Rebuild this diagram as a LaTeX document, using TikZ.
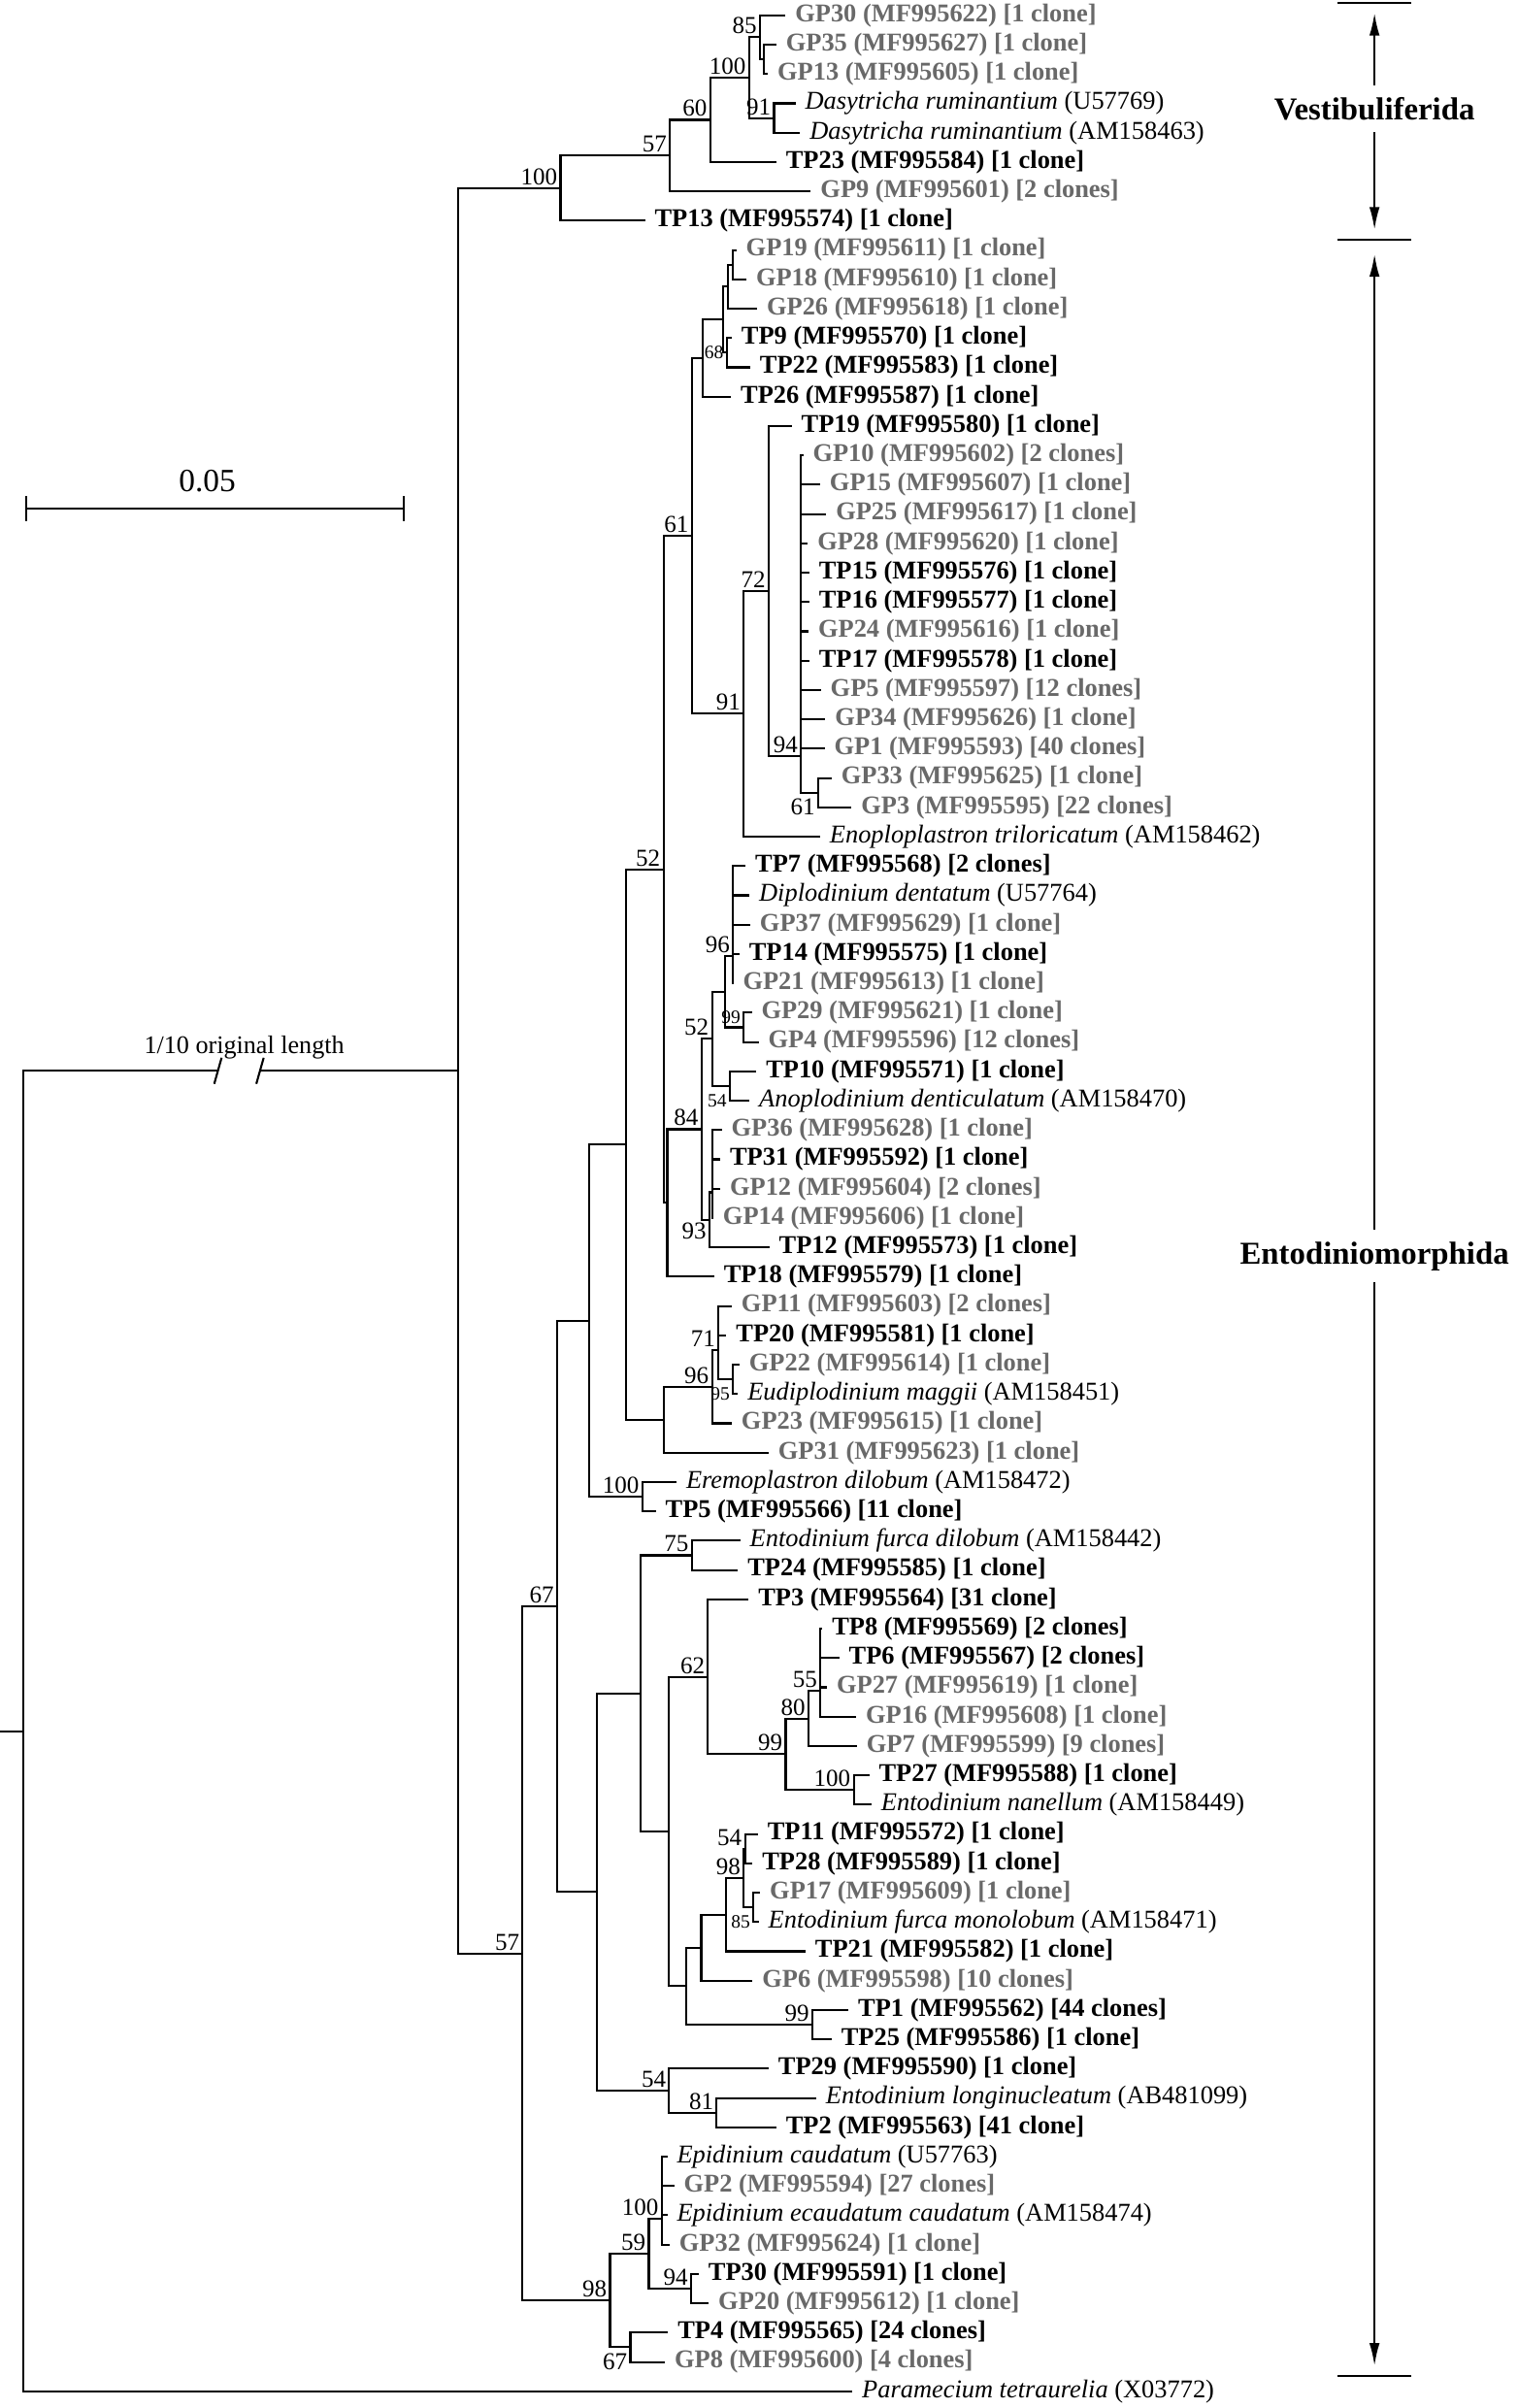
\documentclass[tikz,border=0pt]{standalone}
\usepackage{fontspec}
\setmainfont{Liberation Serif}
\usetikzlibrary{arrows.meta}

\definecolor{gpgray}{RGB}{105,105,105}

\tikzset{
    brline/.style={line width=0.75pt},
    leaf/.style={anchor=west,inner xsep=3.4pt,inner ysep=0.5pt,
        font=\fontsize{9.5}{11}\selectfont},
    tp/.style={leaf,font=\fontsize{9.5}{11}\selectfont\bfseries},
    gp/.style={leaf,text=gpgray,font=\fontsize{9.5}{11}\selectfont\bfseries},
    boot/.style={anchor=south east,inner sep=1pt,font=\fontsize{9}{10}\selectfont},
    bootsmall/.style={boot,font=\fontsize{7}{8}\selectfont},
    clade/.style={font=\fontsize{11.8}{14}\selectfont\bfseries,inner xsep=0pt,inner ysep=4.2pt},
    bracket/.style={line width=0.75pt,-{Latex[length=8.4pt,width=3.8pt]}},
}

\begin{document}
\begin{tikzpicture}[x=0.02cm,y=-0.02cm]
    \useasboundingbox (0,0) rectangle (988,1568);

    % sequences
    \node[gp] (GP30) at (511.5,10.0) {GP30 (MF995622) [1 clone]};
    \node[gp] (GP35) at (505.5,29.1) {GP35 (MF995627) [1 clone]};
    \node[gp] (GP13) at (500,48.2) {GP13 (MF995605) [1 clone]};
    \node[leaf] (Dasy1) at (518,67.3) {\textit{Dasytricha ruminantium} (U57769)};
    \node[leaf] (Dasy2) at (521,86.4) {\textit{Dasytricha ruminantium} (AM158463)};
    \node[tp] (TP23) at (505.5,105.5) {TP23 (MF995584) [1 clone]};
    \node[gp] (GP9) at (528,124.6) {GP9 (MF995601) [2 clones]};
    \node[tp] (TP13) at (420,143.7) {TP13 (MF995574) [1 clone]};
    \node[gp] (GP19) at (479.5,162.8) {GP19 (MF995611) [1 clone]};
    \node[gp] (GP18) at (486,181.9) {GP18 (MF995610) [1 clone]};
    \node[gp] (GP26) at (493,201.0) {GP26 (MF995618) [1 clone]};
    \node[tp] (TP9) at (476.5,220.1) {TP9 (MF995570) [1 clone]};
    \node[tp] (TP22) at (488.5,239.2) {TP22 (MF995583) [1 clone]};
    \node[tp] (TP26) at (476,258.3) {TP26 (MF995587) [1 clone]};
    \node[tp] (TP19) at (515.5,277.4) {TP19 (MF995580) [1 clone]};
    \node[gp] (GP10) at (523,296.5) {GP10 (MF995602) [2 clones]};
    \node[gp] (GP15) at (534,315.6) {GP15 (MF995607) [1 clone]};
    \node[gp] (GP25) at (538,334.7) {GP25 (MF995617) [1 clone]};
    \node[gp] (GP28) at (526,353.8) {GP28 (MF995620) [1 clone]};
    \node[tp] (TP15) at (527,372.9) {TP15 (MF995576) [1 clone]};
    \node[tp] (TP16) at (527,392.0) {TP16 (MF995577) [1 clone]};
    \node[gp] (GP24) at (526.5,411.1) {GP24 (MF995616) [1 clone]};
    \node[tp] (TP17) at (527,430.2) {TP17 (MF995578) [1 clone]};
    \node[gp] (GP5) at (534.5,449.3) {GP5 (MF995597) [12 clones]};
    \node[gp] (GP34) at (537.5,468.4) {GP34 (MF995626) [1 clone]};
    \node[gp] (GP1) at (537,487.5) {GP1 (MF995593) [40 clones]};
    \node[gp] (GP33) at (541.5,506.6) {GP33 (MF995625) [1 clone]};
    \node[gp] (GP3) at (554.5,525.7) {GP3 (MF995595) [22 clones]};
    \node[leaf] (Enopl) at (534,544.8) {\textit{Enoploplastron triloricatum} (AM158462)};
    \node[tp] (TP7) at (485.5,563.9) {TP7 (MF995568) [2 clones]};
    \node[leaf] (Diplo) at (488,583.0) {\textit{Diplodinium dentatum} (U57764)};
    \node[gp] (GP37) at (488.5,602.1) {GP37 (MF995629) [1 clone]};
    \node[tp] (TP14) at (481.5,621.2) {TP14 (MF995575) [1 clone]};
    \node[gp] (GP21) at (477.5,640.3) {GP21 (MF995613) [1 clone]};
    \node[gp] (GP29) at (489.5,659.4) {GP29 (MF995621) [1 clone]};
    \node[gp] (GP4) at (494,678.5) {GP4 (MF995596) [12 clones]};
    \node[tp] (TP10) at (492.5,697.6) {TP10 (MF995571) [1 clone]};
    \node[leaf] (Anopl) at (488,716.7) {\textit{Anoplodinium denticulatum} (AM158470)};
    \node[gp] (GP36) at (470,735.8) {GP36 (MF995628) [1 clone]};
    \node[tp] (TP31) at (469,754.9) {TP31 (MF995592) [1 clone]};
    \node[gp] (GP12) at (469,774.0) {GP12 (MF995604) [2 clones]};
    \node[gp] (GP14) at (464.5,793.1) {GP14 (MF995606) [1 clone]};
    \node[tp] (TP12) at (501,812.2) {TP12 (MF995573) [1 clone]};
    \node[tp] (TP18) at (465,831.3) {TP18 (MF995579) [1 clone]};
    \node[gp] (GP11) at (476.5,850.4) {GP11 (MF995603) [2 clones]};
    \node[tp] (TP20) at (473,869.5) {TP20 (MF995581) [1 clone]};
    \node[gp] (GP22) at (481.5,888.6) {GP22 (MF995614) [1 clone]};
    \node[leaf] (Eudip) at (480.5,907.7) {\textit{Eudiplodinium maggii} (AM158451)};
    \node[gp] (GP23) at (476.5,926.8) {GP23 (MF995615) [1 clone]};
    \node[gp] (GP31) at (500.5,945.9) {GP31 (MF995623) [1 clone]};
    \node[leaf] (Eremo) at (440.5,965.0) {\textit{Eremoplastron dilobum} (AM158472)};
    \node[tp] (TP5) at (427,984.1) {TP5 (MF995566) [11 clone]};
    \node[leaf] (Efdil) at (482,1003.2) {\textit{Entodinium furca dilobum} (AM158442)};
    \node[tp] (TP24) at (480.5,1022.3) {TP24 (MF995585) [1 clone]};
    \node[tp] (TP3) at (487.5,1041.4) {TP3 (MF995564) [31 clone]};
    \node[tp] (TP8) at (535.5,1060.5) {TP8 (MF995569) [2 clones]};
    \node[tp] (TP6) at (546.5,1079.6) {TP6 (MF995567) [2 clones]};
    \node[gp] (GP27) at (538.5,1098.7) {GP27 (MF995619) [1 clone]};
    \node[gp] (GP16) at (557.5,1117.8) {GP16 (MF995608) [1 clone]};
    \node[gp] (GP7) at (558,1136.9) {GP7 (MF995599) [9 clones]};
    \node[tp] (TP27) at (566,1156.0) {TP27 (MF995588) [1 clone]};
    \node[leaf] (Enan) at (567.5,1175.1) {\textit{Entodinium nanellum} (AM158449)};
    \node[tp] (TP11) at (493.5,1194.2) {TP11 (MF995572) [1 clone]};
    \node[tp] (TP28) at (490,1213.3) {TP28 (MF995589) [1 clone]};
    \node[gp] (GP17) at (495,1232.4) {GP17 (MF995609) [1 clone]};
    \node[leaf] (Efmon) at (494,1251.5) {\textit{Entodinium furca monolobum} (AM158471)};
    \node[tp] (TP21) at (524.5,1270.6) {TP21 (MF995582) [1 clone]};
    \node[gp] (GP6) at (490,1289.7) {GP6 (MF995598) [10 clones]};
    \node[tp] (TP1) at (552.5,1308.8) {TP1 (MF995562) [44 clones]};
    \node[tp] (TP25) at (541.5,1327.9) {TP25 (MF995586) [1 clone]};
    \node[tp] (TP29) at (500.5,1347.0) {TP29 (MF995590) [1 clone]};
    \node[leaf] (Elong) at (531.5,1366.1) {\textit{Entodinium longinucleatum} (AB481099)};
    \node[tp] (TP2) at (505.5,1385.2) {TP2 (MF995563) [41 clone]};
    \node[leaf] (Ecaud) at (434.5,1404.3) {\textit{Epidinium caudatum} (U57763)};
    \node[gp] (GP2) at (439,1423.4) {GP2 (MF995594) [27 clones]};
    \node[leaf] (Eecaud) at (434.5,1442.5) {\textit{Epidinium ecaudatum caudatum} (AM158474)};
    \node[gp] (GP32) at (436,1461.6) {GP32 (MF995624) [1 clone]};
    \node[tp] (TP30) at (455,1480.7) {TP30 (MF995591) [1 clone]};
    \node[gp] (GP20) at (461.5,1499.8) {GP20 (MF995612) [1 clone]};
    \node[tp] (TP4) at (435,1518.9) {TP4 (MF995565) [24 clones]};
    \node[gp] (GP8) at (433,1538.0) {GP8 (MF995600) [4 clones]};
    \node[leaf] (Param) at (555,1557.1) {\textit{Paramecium tetraurelia} (X03772)};

    % inner nodes
    \coordinate (nStub) at (0,1127.2);
    \coordinate (nR) at (15.2,1127.2);
    \coordinate (brkL) at (141.9,697.25);
    \coordinate (brkR) at (169.3,697.25);
    \coordinate (nMain) at (298.2,697.25);
    \coordinate (nV) at (365,122.5);
    \coordinate (nV57) at (436.2,101.3);
    \coordinate (nV60) at (462.5,78.05);
    \coordinate (nV100) at (487.8,50.6);
    \coordinate (nV85) at (494.8,24.3);
    \coordinate (nV85b) at (497.3,38.65);
    \coordinate (nV91) at (504.0,76.85);
    \coordinate (nE57) at (340.3,1272.0);
    \coordinate (nE67) at (362.8,1045.95);
    \coordinate (nX) at (383.9,859.9);
    \coordinate (nY52) at (407.7,745.3);
    \coordinate (nY) at (432.0,566.15);
    \coordinate (nN61) at (450.5,349.0);
    \coordinate (nA) at (457.7,233.25);
    \coordinate (nB) at (470.6,208.2);
    \coordinate (nC) at (474.1,186.7);
    \coordinate (nC1) at (477.3,172.35);
    \coordinate (nD) at (473.1,229.65);
    \coordinate (nE91) at (484.2,464.8);
    \coordinate (nE72) at (500.5,384.85);
    \coordinate (nE94) at (521.5,492.3);
    \coordinate (nE61) at (532.7,516.15);
    \coordinate (nZ) at (434.5,783.3);
    \coordinate (nE84) at (456.8,735.35);
    \coordinate (nE52b) at (463.6,676.4);
    \coordinate (nE96c) at (472.0,645.7);
    \coordinate (nE96d) at (477.3,622.4);
    \coordinate (nE99c) at (484.2,668.95);
    \coordinate (nE54c) at (475.2,707.15);
    \coordinate (nE93) at (461.9,794.3);
    \coordinate (nEsub) at (463.6,776.4);
    \coordinate (nE96a) at (432.4,924.4);
    \coordinate (nE96b) at (463.6,902.9);
    \coordinate (nE71) at (467.8,879.05);
    \coordinate (nE95) at (477.3,898.15);
    \coordinate (nEr100) at (418.2,974.55);
    \coordinate (nEC) at (388.8,1232.0);
    \coordinate (nEup) at (417.2,1102.7);
    \coordinate (nE75) at (450.5,1012.75);
    \coordinate (nEmid) at (435.7,1192.6);
    \coordinate (nE62) at (461.0,1091.85);
    \coordinate (nE99) at (511.6,1142.3);
    \coordinate (nE80) at (526.4,1119.0);
    \coordinate (nE55) at (534.2,1101.1);
    \coordinate (nE100n) at (555.9,1165.55);
    \coordinate (nElow) at (446.7,1293.3);
    \coordinate (nEa) at (456.6,1268.2);
    \coordinate (nE98b) at (473.0,1246.7);
    \coordinate (nEb) at (484.2,1222.85);
    \coordinate (nE54b) at (485.1,1203.75);
    \coordinate (nE85) at (490.5,1241.95);
    \coordinate (nE99b) at (528.9,1318.35);
    \coordinate (nE54) at (435.7,1361.3);
    \coordinate (nE81) at (466.7,1375.65);
    \coordinate (nE98) at (397.2,1498.0);
    \coordinate (nE59) at (422.5,1467.6);
    \coordinate (nE100c) at (430.9,1444.9);
    \coordinate (nE94c) at (449.9,1490.25);
    \coordinate (nE67b) at (410.5,1528.45);

    % branches
    \draw[brline] (nStub) -- (nR);
    \draw[brline] (nR) |- (Param);
    \draw[brline] (nR) |- (brkL);
    \draw[brline] (brkR) -- (nMain);
    \foreach \a/\b in {nMain/nV,nMain/nE57,
        nV/nV57,nV/TP13,nV57/nV60,nV57/GP9,nV60/nV100,nV60/TP23,
        nV100/nV85,nV100/nV91,nV85/GP30,nV85/nV85b,nV85b/GP35,nV85b/GP13,
        nV91/Dasy1,nV91/Dasy2,
        nE57/nE67,nE57/nE98,nE67/nX,nE67/nEC,nX/nY52,nX/nEr100,
        nY52/nY,nY52/nE96a,nY/nN61,nY/nZ,nN61/nA,nN61/nE91,
        nA/nB,nA/TP26,nB/nC,nB/nD,nC/nC1,nC/GP26,nC1/GP19,nC1/GP18,
        nD/TP9,nD/TP22,nE91/nE72,nE91/Enopl,nE72/TP19,nE72/nE94,
        nE61/GP33,nE61/GP3,
        nZ/nE84,nZ/TP18,nE84/nE52b,nE84/nE93,nE52b/nE96c,nE52b/nE54c,
        nE96c/nE96d,nE96c/nE99c,nE99c/GP29,nE99c/GP4,nE54c/TP10,nE54c/Anopl,
        nE93/nEsub,nE93/TP12,
        nE96a/nE96b,nE96a/GP31,nE96b/nE71,nE96b/GP23,nE95/GP22,nE95/Eudip,
        nEr100/Eremo,nEr100/TP5,
        nEC/nEup,nEC/nE54,nEup/nE75,nEup/nEmid,nE75/Efdil,nE75/TP24,
        nEmid/nE62,nEmid/nElow,nE62/TP3,nE62/nE99,nE99/nE80,nE99/nE100n,
        nE80/nE55,nE80/GP7,nE100n/TP27,nE100n/Enan,
        nElow/nEa,nElow/nE99b,nEa/nE98b,nEa/GP6,nE98b/nEb,nE98b/TP21,
        nEb/nE54b,nEb/nE85,nE54b/TP11,nE54b/TP28,nE85/GP17,nE85/Efmon,
        nE99b/TP1,nE99b/TP25,nE54/TP29,nE54/nE81,nE81/Elong,nE81/TP2,
        nE98/nE59,nE98/nE67b,nE59/nE100c,nE59/nE94c,nE94c/TP30,nE94c/GP20,
        nE67b/TP4,nE67b/GP8}
        \draw[brline] (\a) |- (\b);
    \foreach \b in {GP10,GP15,GP25,GP28,TP15,TP16,GP24,TP17,GP5,GP34,GP1,nE61}
        \draw[brline] (nE94) |- (\b);
    \foreach \b in {TP7,Diplo,GP37,TP14,GP21}
        \draw[brline] (nE96d) |- (\b);
    \foreach \b in {GP36,TP31,GP12,GP14}
        \draw[brline] (nEsub) |- (\b);
    \foreach \b in {GP11,TP20,nE95}
        \draw[brline] (nE71) |- (\b);
    \foreach \b in {TP8,TP6,GP27,GP16}
        \draw[brline] (nE55) |- (\b);
    \foreach \b in {Ecaud,GP2,Eecaud,GP32}
        \draw[brline] (nE100c) |- (\b);

    % break in the long branch
    \draw[brline] ([shift={(-2.4,8.5)}]brkL) -- ([shift={(2.4,-8.5)}]brkL);
    \draw[brline] ([shift={(-2.4,8.5)}]brkR) -- ([shift={(2.4,-8.5)}]brkR);
    \node[font=\fontsize{9.4}{11}\selectfont] (brkText) at (159,682) {1/10 original length};

    % bootstrap values
    \node[boot] (bV) at (nV) {100};
    \node[boot] (bV57) at (nV57) {57};
    \node[boot] (bV60) at (nV60) {60};
    \node[boot] (bV100) at (nV100) {100};
    \node[boot] (bV85) at (nV85) {85};
    \node[boot] (bV91) at (nV91) {91};
    \node[boot] (bE57) at (nE57) {57};
    \node[boot] (bE67) at (nE67) {67};
    \node[boot] (bY) at (nY) {52};
    \node[boot] (bN61) at (nN61) {61};
    \node[bootsmall,anchor=east] (bD) at (nD) {68};
    \node[boot] (bE72) at (nE72) {72};
    \node[boot] (bE91) at (nE91) {91};
    \node[boot] (bE94) at (nE94) {94};
    \node[boot,anchor=east] (bE61) at (nE61 |- GP3) {61};
    \node[boot] (bE84) at (nE84) {84};
    \node[boot] (bE52b) at (nE52b) {52};
    \node[boot] (bE96d) at (nE96d) {96};
    \node[bootsmall] (bE99c) at (nE99c) {99};
    \node[bootsmall,anchor=east] (bE54c) at (nE54c |- Anopl) {54};
    \node[boot,anchor=north east] (bE93) at (nE93) {93};
    \node[boot] (bE96b) at (nE96b) {96};
    \node[boot] (bE71) at (nE71) {71};
    \node[bootsmall,anchor=east] (bE95) at (nE95 |- Eudip) {95};
    \node[boot] (bEr100) at (nEr100) {100};
    \node[boot] (bE75) at (nE75) {75};
    \node[boot] (bE62) at (nE62) {62};
    \node[boot] (bE99) at (nE99) {99};
    \node[boot] (bE80) at (nE80) {80};
    \node[boot] (bE55) at (nE55) {55};
    \node[boot] (bE100n) at (nE100n) {100};
    \node[boot] (bEb) at (nEb) {98};
    \node[boot] (bE54b) at (nE54b) {54};
    \node[bootsmall,anchor=east] (bE85) at (nE85 |- Efmon) {85};
    \node[boot] (bE99b) at (nE99b) {99};
    \node[boot] (bE54) at (nE54) {54};
    \node[boot] (bE81) at (nE81) {81};
    \node[boot] (bE98) at (nE98) {98};
    \node[boot] (bE59) at (nE59) {59};
    \node[boot] (bE100c) at (nE100c) {100};
    \node[boot] (bE94c) at (nE94c) {94};
    \node[boot,anchor=east] (bE67b) at (nE67b |- GP8) {67};

    % scale bar
    \coordinate (sbL) at (17.3,331);
    \coordinate (sbR) at (263,331);
    \draw[brline] (sbL) -- (sbR);
    \draw[brline] ([yshift=-4.6]sbL) -- ([yshift=4.6]sbL);
    \draw[brline] ([yshift=-4.6]sbR) -- ([yshift=4.6]sbR);
    \node[font=\fontsize{12}{14}\selectfont] (sbText) at (135,313) {0.05};

    % orders
    \draw[brline] (871.2,1.7) -- (919,1.7);
    \draw[brline] (871.2,155.9) -- (919,155.9);
    \draw[brline] (871.2,1547) -- (919,1547);
    \coordinate (vestTop) at (895,8.4);
    \coordinate (vestBot) at (895,149.6);
    \coordinate (entoTop) at (895,165.4);
    \coordinate (entoBot) at (895,1540.5);
    \node[clade] (vest) at (895,71) {Vestibuliferida};
    \node[clade] (ento) at (895,818) {Entodiniomorphida};
    \draw[bracket] (vest.north) -- (vestTop);
    \draw[bracket] (vest.south) -- (vestBot);
    \draw[bracket] (ento.north) -- (entoTop);
    \draw[bracket] (ento.south) -- (entoBot);
\end{tikzpicture}
\end{document}
